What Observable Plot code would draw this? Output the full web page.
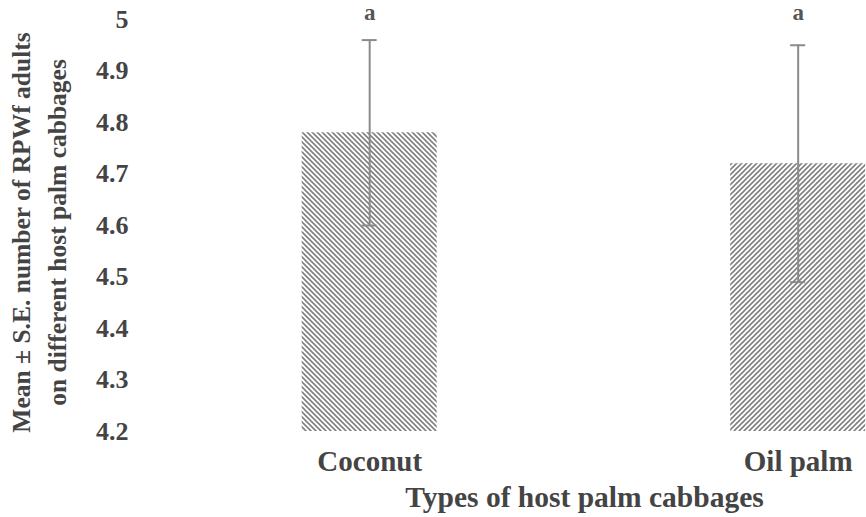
<!DOCTYPE html>
<html>
<head>
<meta charset="utf-8">
<script src="https://cdn.jsdelivr.net/npm/d3@7"></script>
<script src="https://cdn.jsdelivr.net/npm/@observablehq/plot@0.6"></script>
<style>
  body { margin: 0; background: #fff; overflow: hidden; }
  svg { overflow: hidden; }
</style>
</head>
<body>
<div id="chart"></div>
<script>
// ---- data ----
const categories = ["Coconut", "Oil palm"];
const means = [4.78, 4.72];
const seLow = [4.60, 4.49];
const seHigh = [4.96, 4.95];
const letters = ["a", "a"];
const yDomain = [4.2, 5];
const yTicks = [4.2, 4.3, 4.4, 4.5, 4.6, 4.7, 4.8, 4.9, 5];
const yTickLabels = ["4.2", "4.3", "4.4", "4.5", "4.6", "4.7", "4.8", "4.9", "5"];
const yTitleLines = ["Mean ± S.E. number of RPWf adults", "on different host palm cabbages"];
const xTitle = "Types of host palm cabbages";

const rows = categories.map((c, i) => ({
  category: c, mean: means[i], lo: seLow[i], hi: seHigh[i], letter: letters[i]
}));

const textColor = "#444";
const font = "'Liberation Serif', 'Times New Roman', serif";

function hatchDefs() {
  const ns = "http://www.w3.org/2000/svg";
  const defs = document.createElementNS(ns, "defs");
  defs.innerHTML =
    `<pattern id="hatch-back" patternUnits="userSpaceOnUse" width="5" height="5">
       <path d="M-1,-1L6,6M-1,4L1,6M4,-1L6,1" stroke="#808080" stroke-width="1.6" fill="none"/>
     </pattern>
     <pattern id="hatch-fwd" patternUnits="userSpaceOnUse" width="5" height="5">
       <path d="M-1,6L6,-1M-1,1L1,-1M4,6L6,4" stroke="#808080" stroke-width="1.6" fill="none"/>
     </pattern>`;
  return defs;
}

const chart = Plot.plot({
  width: 866,
  height: 517,
  marginTop: 19,
  marginBottom: 86,
  marginLeft: 135,
  marginRight: 0,
  style: { fontFamily: font, background: "#fff" },
  x: { domain: categories, range: [87.45, 1079.4], paddingInner: 0.685, paddingOuter: 0.5, round: false },
  y: { domain: yDomain },
  marks: [
    hatchDefs,
    Plot.barY(rows, { filter: d => d.category === categories[0], x: "category", y1: () => yDomain[0], y2: "mean", fill: "url(#hatch-back)" }),
    Plot.barY(rows, { filter: d => d.category === categories[1], x: "category", y1: () => yDomain[0], y2: "mean", fill: "url(#hatch-fwd)" }),
    Plot.ruleX(rows, { x: "category", y1: "lo", y2: "hi", stroke: "#8a8a8a", strokeWidth: 2 }),
    Plot.tickY(rows, { x: "category", y: "hi", insetLeft: 60, insetRight: 60, stroke: "#8a8a8a", strokeWidth: 2 }),
    Plot.tickY(rows, { x: "category", y: "lo", insetLeft: 60, insetRight: 60, stroke: "#8a8a8a", strokeWidth: 2 }),
    Plot.text(rows, { x: "category", y: () => yDomain[1], text: "letter", dy: -7, fontSize: 23, fontWeight: "bold", fill: "#555" }),
    Plot.axisY({ ticks: yTicks, tickFormat: d => yTickLabels[yTicks.indexOf(d)], tickSize: 0, tickPadding: 7, fontSize: 26, fontWeight: "bold", fill: textColor, label: null }),
    Plot.axisX({ tickSize: 0, tickPadding: 19, fontSize: 29, fontWeight: "bold", fill: textColor, label: null }),
    Plot.text([yTitleLines[0]], { text: d => d, frameAnchor: "left", textAnchor: "middle", rotate: -90, dx: -114, dy: 7, fontSize: 25.5, fontWeight: "bold", fill: textColor }),
    Plot.text([yTitleLines[1]], { text: d => d, frameAnchor: "left", textAnchor: "middle", rotate: -90, dx: -78, dy: 7, fontSize: 25.5, fontWeight: "bold", fill: textColor }),
    Plot.text([xTitle], { text: d => d, frameAnchor: "bottom", dx: 83.5, dy: 75, fontSize: 29.5, fontWeight: "bold", fill: textColor })
  ]
});

document.getElementById("chart").appendChild(chart);
</script>
</body>
</html>
